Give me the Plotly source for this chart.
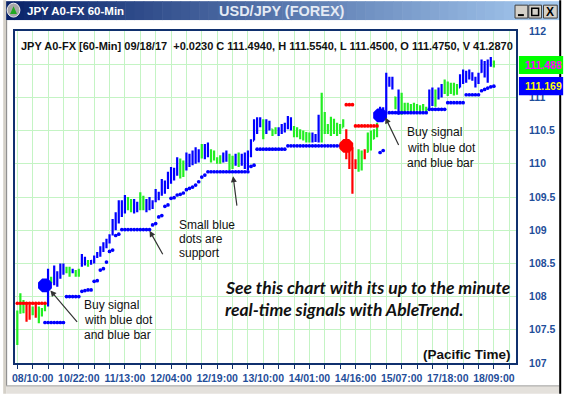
import plotly.graph_objects as go

# ---------------- data ----------------
tick_bars = [5, 20, 35, 50, 65, 80, 95, 110, 125, 140, 155]
tick_labels = ["08/10:00", "10/22:00", "11/13:00", "12/04:00", "12/19:00", "13/10:00",
               "14/01:00", "14/16:00", "15/07:00", "17/18:00", "18/09:00"]

# trend colour of each hourly bar: b = up (blue), g = neutral (green), r = down (red)
trend = ("gggrrgrggg" "bgbbbbggbg" "gbbgbbbbbb" "bbbbbbggbb" "ggbbbbbbbb"
         "bbbggbbbbb" "gbbggggbbg" "gbgbbbbbbb" "gbbggbbbbb" "ggggggbbbg"
         "gggggggrrr" "rggrggggbb" "bbbgbggggg" "ggggbbgbbg" "ggggbbbbbb" "bbbbbg")

opens = [107.55, 107.76, 107.88, 107.85, 107.80, 107.74, 107.86, 107.70, 107.75, 107.80,
         107.88, 108.28, 108.22, 108.35, 108.30, 108.40, 108.42, 108.40, 108.37, 108.38,
         108.36, 108.48, 108.55, 108.50, 108.50, 108.52, 108.60, 108.62, 108.70, 108.75,
         108.82, 108.95, 109.05, 109.15, 109.25, 109.35, 109.45, 109.35, 109.30, 109.40,
         109.35, 109.48, 109.32, 109.40, 109.42, 109.44, 109.55, 109.55, 109.70, 109.68,
         109.80, 109.85, 109.90, 110.02, 109.88, 109.98, 110.10, 110.02, 110.14, 110.18,
         110.10, 110.22, 110.14, 110.20, 110.08, 110.08, 110.05, 110.08, 110.12, 110.08,
         109.96, 110.05, 110.10, 110.00, 110.10, 109.95, 110.15, 110.35, 110.55, 110.62,
         110.60, 110.48, 110.60, 110.52, 110.46, 110.50, 110.48, 110.55, 110.58, 110.65,
         110.55, 110.44, 110.50, 110.42, 110.45, 110.38, 110.42, 110.36, 110.42, 110.65,
         110.50, 110.58, 110.50, 110.64, 110.52, 110.58, 110.55, 110.50, 110.20, 110.05,
         110.05, 109.95, 110.15, 110.20, 110.18, 110.40, 110.38, 110.48, 110.68, 110.80,
         110.76, 111.25, 111.20, 111.00, 110.90, 110.80, 110.90, 110.82, 110.88, 110.84,
         110.88, 110.82, 110.85, 110.84, 110.84, 111.05, 110.95, 111.05, 111.12, 111.16,
         111.10, 111.18, 111.08, 111.15, 111.15, 111.30, 111.36, 111.30, 111.36, 111.28,
         111.22, 111.38, 111.50, 111.36, 111.50, 111.475]
highs = [107.79, 108.05, 107.95, 107.90, 107.88, 107.85, 107.90, 107.85, 107.83, 107.90,
         108.42, 108.30, 108.47, 108.38, 108.50, 108.50, 108.45, 108.45, 108.42, 108.40,
         108.42, 108.64, 108.60, 108.55, 108.55, 108.62, 108.67, 108.76, 108.82, 108.87,
         108.94, 109.17, 109.27, 109.45, 109.45, 109.53, 109.50, 109.47, 109.47, 109.43,
         109.57, 109.52, 109.47, 109.50, 109.45, 109.62, 109.58, 109.77, 109.75, 109.88,
         109.95, 109.94, 110.10, 110.08, 110.05, 110.17, 110.15, 110.20, 110.25, 110.22,
         110.30, 110.30, 110.32, 110.22, 110.20, 110.10, 110.13, 110.17, 110.20, 110.15,
         110.12, 110.15, 110.17, 110.15, 110.17, 110.20, 110.37, 110.67, 110.70, 110.70,
         110.67, 110.67, 110.65, 110.52, 110.55, 110.55, 110.60, 110.62, 110.72, 110.70,
         110.57, 110.55, 110.52, 110.50, 110.48, 110.47, 110.47, 110.45, 110.74, 111.07,
         110.78, 110.60, 110.71, 110.68, 110.62, 110.60, 110.67, 110.52, 110.28, 110.25,
         110.07, 110.22, 110.20, 110.22, 110.47, 110.50, 110.52, 110.62, 110.86, 110.85,
         111.37, 111.31, 111.31, 111.01, 111.12, 111.07, 110.92, 110.92, 110.90, 110.92,
         110.90, 110.88, 110.90, 110.86, 111.12, 111.15, 111.12, 111.15, 111.20, 111.27,
         111.24, 111.22, 111.22, 111.20, 111.35, 111.42, 111.40, 111.42, 111.38, 111.31,
         111.37, 111.57, 111.55, 111.57, 111.61, 111.554]
lows = [107.27, 107.74, 107.75, 107.62, 107.65, 107.72, 107.68, 107.60, 107.70, 107.78,
        107.85, 108.20, 108.17, 108.15, 108.27, 108.33, 108.35, 108.30, 108.35, 108.30,
        108.30, 108.45, 108.47, 108.45, 108.48, 108.50, 108.58, 108.60, 108.67, 108.73,
        108.80, 108.92, 109.00, 109.10, 109.20, 109.25, 109.30, 109.27, 109.25, 109.27,
        109.30, 109.30, 109.27, 109.30, 109.32, 109.42, 109.45, 109.52, 109.55, 109.62,
        109.70, 109.75, 109.82, 109.78, 109.80, 109.90, 109.95, 109.98, 110.00, 110.02,
        110.08, 110.07, 110.10, 110.02, 110.05, 110.00, 110.00, 110.02, 110.03, 109.90,
        109.92, 109.97, 109.95, 109.97, 109.92, 109.90, 110.10, 110.35, 110.45, 110.55,
        110.37, 110.45, 110.50, 110.42, 110.45, 110.42, 110.45, 110.47, 110.52, 110.50,
        110.40, 110.40, 110.37, 110.35, 110.32, 110.32, 110.32, 110.33, 110.32, 110.32,
        110.45, 110.45, 110.42, 110.45, 110.42, 110.45, 110.55, 110.07, 109.92, 109.55,
        109.92, 109.88, 109.90, 110.07, 110.17, 110.20, 110.37, 110.40, 110.67, 110.70,
        110.74, 111.16, 111.12, 110.82, 110.74, 110.74, 110.77, 110.80, 110.78, 110.79,
        110.80, 110.79, 110.80, 110.77, 110.82, 110.87, 110.86, 110.97, 111.00, 111.05,
        111.02, 111.05, 111.03, 111.04, 111.15, 111.20, 111.22, 111.27, 111.25, 111.15,
        111.20, 111.37, 111.30, 111.22, 111.46, 111.450]
closes = [107.70, 107.90, 107.80, 107.68, 107.70, 107.80, 107.72, 107.80, 107.80, 107.86,
          108.30, 108.25, 108.40, 108.30, 108.45, 108.44, 108.38, 108.36, 108.40, 108.34,
          108.38, 108.60, 108.52, 108.48, 108.54, 108.60, 108.65, 108.72, 108.80, 108.85,
          108.92, 109.12, 109.22, 109.40, 109.38, 109.48, 109.35, 109.42, 109.44, 109.32,
          109.50, 109.36, 109.42, 109.46, 109.40, 109.58, 109.52, 109.72, 109.66, 109.84,
          109.90, 109.88, 110.05, 109.85, 109.98, 110.12, 110.02, 110.16, 110.20, 110.08,
          110.24, 110.12, 110.28, 110.08, 110.15, 110.04, 110.10, 110.14, 110.06, 109.96,
          110.08, 110.10, 110.00, 110.12, 109.98, 110.15, 110.32, 110.60, 110.65, 110.60,
          110.45, 110.62, 110.55, 110.46, 110.50, 110.48, 110.56, 110.58, 110.66, 110.55,
          110.44, 110.50, 110.42, 110.45, 110.38, 110.42, 110.36, 110.42, 110.65, 110.50,
          110.70, 110.50, 110.65, 110.52, 110.58, 110.50, 110.62, 110.12, 109.98, 109.90,
          109.95, 110.15, 110.05, 110.10, 110.40, 110.30, 110.48, 110.58, 110.80, 110.76,
          111.30, 111.20, 111.25, 110.90, 110.80, 110.95, 110.82, 110.88, 110.84, 110.88,
          110.82, 110.85, 110.84, 110.82, 111.05, 110.95, 111.08, 111.12, 111.16, 111.10,
          111.18, 111.08, 111.15, 111.12, 111.30, 111.38, 111.28, 111.38, 111.30, 111.20,
          111.34, 111.52, 111.36, 111.50, 111.48, 111.494]

# small blue support dots (one per bar, None where absent)
blue_support = ([None] * 9 +
                [107.61, 107.61, 107.61, 107.61, 107.61, 107.61, 107.61,
                 108.00, 108.00, 108.00, 108.00, 108.00,
                 108.08, 108.09, 108.10, 108.10, 108.23, 108.24, 108.40, 108.42, 108.52,
                 108.68, 108.70, 108.92, 108.94,
                 109.01, 109.01, 109.01, 109.01, 109.01, 109.01, 109.01, 109.01, 109.01, 109.01,
                 109.08, 109.10, 109.20, 109.22, 109.36, 109.38, 109.48, 109.49, 109.53,
                 109.54, 109.56, 109.61, 109.63, 109.65, 109.68, 109.73, 109.80, 109.83,
                 109.88, 109.88, 109.88, 109.88, 109.88, 109.88, 109.88, 109.88, 109.88,
                 109.88, 109.88, 109.88, 109.88, 109.88,
                 109.96, 109.98,
                 110.22, 110.22, 110.22, 110.22, 110.22, 110.22, 110.22, 110.22, 110.22, 110.22,
                 110.27, 110.27, 110.27, 110.27, 110.27, 110.27, 110.27, 110.27, 110.27, 110.27,
                 110.27, 110.27, 110.27, 110.27, 110.27, 110.27, 110.27, 110.27, 110.27] +
                [None] * 11 +
                [110.17, 110.20, None,
                 110.77, 110.77, 110.77, 110.77, 110.77, 110.77, 110.77, 110.77, 110.77,
                 110.77, 110.77, 110.77, 110.77,
                 110.82, 110.82, 110.82, 110.82, 110.82, 110.82,
                 110.92, 110.92, 110.92, 110.92, 110.92, 110.92,
                 111.04, 111.04, 111.04, 111.04, 111.04,
                 111.10, 111.12, 111.14, 111.16, 111.169])
# small red resistance dots
red_resistance = ([107.90, 107.90, 107.90, 107.90, 107.90, 107.90, 107.90, 107.90, 107.90, 107.90] +
                  [None] * 97 +
                  [110.89, 110.89, 110.89,
                   110.57, 110.57, 110.57, 110.57, 110.57, 110.57, 110.57, 110.57] +
                  [None] * 38)

buy_bars, buy_prices = [9, 118], [108.17, 110.73]
sell_bars, sell_prices = [107], [110.27]

last_green_label, last_blue_label = 111.488, 111.169

y_ticks = [107, 107.5, 108, 108.5, 109, 109.5, 110, 110.5, 111, 111.5, 112]
y_tick_text = ["107", "107.5", "108", "108.5", "109", "109.5", "110", "110.5", "111", "", "112"]

# ---------------- layout geometry ----------------
W, H = 568, 396
PL, PR, PT, PB = 12, 522, 31, 365


def px(x):
    return (x - PL) / (PR - PL)


def py(y):
    return (PB - y) / (PB - PT)


NAVY = "#10306e"
AXIS_TXT = "#1f4e9a"
GRID = "#c4f4c4"
ARIAL = "Arial, 'Liberation Sans', sans-serif"

fig = go.Figure()
bar_x = list(range(len(highs)))
palette = {"b": "#0000ff", "g": "#22ee22", "r": "#ff0000"}
for code, col in palette.items():
    idx = [i for i, t in enumerate(trend) if t == code]
    fig.add_trace(go.Ohlc(
        x=[bar_x[i] for i in idx],
        open=[opens[i] for i in idx], high=[highs[i] for i in idx],
        low=[lows[i] for i in idx], close=[closes[i] for i in idx],
        increasing=dict(line=dict(color=col, width=2.2)),
        decreasing=dict(line=dict(color=col, width=2.2)),
        tickwidth=0.35, hoverinfo="skip", showlegend=False))

fig.add_trace(go.Scatter(x=bar_x, y=blue_support, mode="markers",
                         marker=dict(color="#0000ff", size=3.7, line=dict(width=0)),
                         hoverinfo="skip", showlegend=False))
fig.add_trace(go.Scatter(x=bar_x, y=red_resistance, mode="markers",
                         marker=dict(color="#ff0000", size=3.7, line=dict(width=0)),
                         hoverinfo="skip", showlegend=False))
fig.add_trace(go.Scatter(x=buy_bars, y=buy_prices, mode="markers",
                         marker=dict(color="#0000ff", size=15, symbol="octagon", line=dict(width=0)),
                         hoverinfo="skip", showlegend=False))
fig.add_trace(go.Scatter(x=sell_bars, y=sell_prices, mode="markers",
                         marker=dict(color="#ff0000", size=15, symbol="octagon", line=dict(width=0)),
                         hoverinfo="skip", showlegend=False))

shapes = []
ann = []


def text(t, x, y, size, color, xanchor="left", family=ARIAL):
    ann.append(dict(text=t, x=px(x), y=py(y), xref="paper", yref="paper",
                    xanchor=xanchor, yanchor="middle", showarrow=False,
                    font=dict(family=family, size=size, color=color)))


# window chrome: title bar gradient
c0, c1 = (10, 36, 106), (166, 202, 240)
n = 60
x_start, x_end = 2, 566
for k in range(n):
    t = k / (n - 1)
    col = "rgb(%d,%d,%d)" % tuple(round(a + (b - a) * t) for a, b in zip(c0, c1))
    xa = x_start + (x_end - x_start) * k / n
    xb = x_start + (x_end - x_start) * (k + 1) / n + 0.6
    shapes.append(dict(type="rect", xref="paper", yref="paper", x0=px(xa), x1=px(xb),
                       y0=py(20), y1=py(1), fillcolor=col, line=dict(width=0), layer="below"))
# left frame, right frame, bottom scrollbar
shapes.append(dict(type="rect", xref="paper", yref="paper", x0=px(0), x1=px(3), y0=py(396), y1=py(0),
                   fillcolor="#d4d0c8", line=dict(width=0)))
shapes.append(dict(type="line", xref="paper", yref="paper", x0=px(3.5), x1=px(3.5), y0=py(388), y1=py(20),
                   line=dict(color="#808080", width=1)))
shapes.append(dict(type="rect", xref="paper", yref="paper", x0=px(3), x1=px(566), y0=py(396), y1=py(388),
                   fillcolor="#e4e1dc", line=dict(width=0)))
shapes.append(dict(type="line", xref="paper", yref="paper", x0=px(3), x1=px(566), y0=py(388), y1=py(388),
                   line=dict(color="#a0a0a0", width=1)))
shapes.append(dict(type="line", xref="paper", yref="paper", x0=px(567), x1=px(567), y0=py(396), y1=py(0),
                   line=dict(color="#000000", width=2)))
# title icon
shapes.append(dict(type="circle", xref="paper", yref="paper", x0=px(4), x1=px(17), y0=py(17), y1=py(3),
                   fillcolor="#a8a8a8", line=dict(color="#f0f0f0", width=1)))
shapes.append(dict(type="path", xref="paper", yref="paper",
                   path="M %f %f L %f %f L %f %f Z" % (px(7), py(14), px(10.5), py(6), px(14), py(14)),
                   fillcolor="#22aa22", line=dict(width=0)))
# window buttons
for bx0, bx1 in [(521, 534), (535, 548), (550, 564)]:
    shapes.append(dict(type="rect", xref="paper", yref="paper", x0=px(bx0), x1=px(bx1), y0=py(18), y1=py(5),
                       fillcolor="#d4d0c8", line=dict(color="#404040", width=1)))
shapes.append(dict(type="line", xref="paper", yref="paper", x0=px(524), x1=px(530), y0=py(15), y1=py(15),
                   line=dict(color="#000000", width=2)))
shapes.append(dict(type="rect", xref="paper", yref="paper", x0=px(538), x1=px(545), y0=py(15.5), y1=py(8),
                   fillcolor="rgba(0,0,0,0)", line=dict(color="#000000", width=1.5)))
text("<b>X</b>", 557, 11.5, 12, "#000000", xanchor="center")

# price labels on the right
for val, fill, tcol in [(last_green_label, "#00ff00", "#ff00ff"), (last_blue_label, "#0000ff", "#ffff00")]:
    shapes.append(dict(type="rect", xref="paper", yref="y", x0=px(525), x1=px(570),
                       y0=val - 0.137, y1=val + 0.137, fillcolor=fill, line=dict(width=0)))
    ann.append(dict(text="<b>%.3f</b>" % val, x=px(529), y=val, xref="paper", yref="y",
                    xanchor="left", yanchor="middle", showarrow=False,
                    font=dict(family=ARIAL, size=10.5, color=tcol)))

# title texts
text("<b>JPY A0-FX 60-Min</b>", 22, 10.5, 11.5, "#ffffff")
text("<b>USD/JPY (FOREX)</b>", 284, 10.5, 14.5, "#e4eaf4", xanchor="center")
text("<b>JPY A0-FX [60-Min] 09/18/17 &nbsp;+0.0230 C 111.4940, H 111.5540, L 111.4500, "
     "O 111.4750, V 41.2870</b>", 16, 46, 11, "#111111")

# explanatory notes
for lines, left, ys in [(["Buy signal", "with blue dot", "and blue bar"], 80, [307, 322, 337]),
                        (["Small blue", "dots are", "support"], 177, [226, 240, 254]),
                        (["Buy signal", "with blue dot", "and blue bar"], 409, [133, 148.5, 164])]:
    for line, yy in zip(lines, ys):
        text(line, left, yy, 12, "#111111")

for (hx, hy), (tx, ty) in [((48, 292), (76, 325)), ((149, 232), (163, 257)),
                           ((234, 177), (238, 208)), ((389, 118), (403, 147))]:
    ann.append(dict(text="", x=px(hx), y=py(hy), xref="paper", yref="paper", showarrow=True,
                    ax=tx - hx, ay=ty - hy, axref="pixel", ayref="pixel",
                    arrowhead=2, arrowsize=1, arrowwidth=1.2, arrowcolor="#333333", standoff=0))

for line, yy in [("See this chart with its up to the minute", 289),
                 ("real-time signals with AbleTrend.", 311)]:
    text("<b><i>%s</i></b>" % line, 224, yy, 17.5, "#111111", family="Lato, 'Open Sans', sans-serif")

text("<b>(Pacific Time)</b>", 519, 356, 13.5, "#111111", xanchor="right")

grid_vals = list(range(0, 163, 5))
grid_text = [tick_labels[tick_bars.index(v)] if v in tick_bars else "" for v in grid_vals]

fig.update_layout(
    width=W, height=H,
    margin=dict(l=PL, r=W - PR, t=PT, b=H - PB, pad=0),
    paper_bgcolor="#ffffff", plot_bgcolor="#ffffff",
    showlegend=False,
    shapes=shapes, annotations=ann,
    xaxis=dict(range=[-0.75, 162.2], tickmode="array", tickvals=grid_vals, ticktext=grid_text,
               showgrid=True, gridcolor=GRID, gridwidth=1, zeroline=False,
               showline=True, linecolor=NAVY, linewidth=2, mirror=True,
               ticks="outside", ticklen=4, tickcolor=NAVY, tickwidth=1,
               tickfont=dict(family=ARIAL, size=10.5, color=AXIS_TXT, weight="bold"),
               rangeslider=dict(visible=False), fixedrange=True),
    yaxis=dict(range=[107, 112], side="right", tickmode="array",
               tickvals=y_ticks, ticktext=y_tick_text,
               showgrid=True, gridcolor=GRID, gridwidth=1, zeroline=False,
               showline=True, linecolor=NAVY, linewidth=2, mirror=True,
               ticks="", ticklabelstandoff=9,
               tickfont=dict(family=ARIAL, size=10.5, color=AXIS_TXT, weight="bold"), fixedrange=True),
)

fig.write_html("out.html", config={"displayModeBar": False})
